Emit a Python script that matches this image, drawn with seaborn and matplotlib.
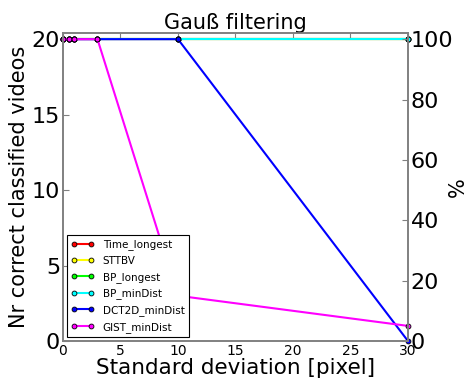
import matplotlib
matplotlib.use("Agg")
import matplotlib.pyplot as plt
import seaborn as sns
import pandas as pd

sigma = [0, 0.5, 1, 3, 10, 30]
time_longest = [20, 20, 20, 20, 20, 20]
sttbv = [20, 20, 20, 20, 20, 20]
bp_longest = [20, 20, 20, 20, 20, 20]
bp_mindist = [20, 20, 20, 20, 20, 20]
dct2d_mindist = [20, 20, 20, 20, 20, 0]
gist_mindist = [20, 20, 20, 20, 3, 1]

series = {
    "Time_longest": time_longest,
    "STTBV": sttbv,
    "BP_longest": bp_longest,
    "BP_minDist": bp_mindist,
    "DCT2D_minDist": dct2d_mindist,
    "GIST_minDist": gist_mindist,
}
colors = ["#ff0000", "#ffff00", "#00ff00", "#00ffff", "#0000ff", "#ff00ff"]

sns.set_style("white")
plt.rcParams["font.family"] = ["DejaVu Sans"]
plt.rcParams["text.color"] = "black"
plt.rcParams["axes.labelcolor"] = "black"
plt.rcParams["xtick.labelcolor"] = "black"
plt.rcParams["ytick.labelcolor"] = "black"

fig = plt.figure(figsize=(4.7, 3.81), dpi=100)
ax = fig.add_axes([0.134, 0.105, 0.734, 0.808])

for (name, vals), col in zip(series.items(), colors):
    df = pd.DataFrame({"sigma": sigma, "n": vals})
    sns.lineplot(data=df, x="sigma", y="n", ax=ax, color=col, label=name,
                 marker="o", markersize=3.5, markeredgecolor="black",
                 markeredgewidth=0.6, linewidth=1.5, clip_on=False)

ax.set_xlim(0, 30)
ax.set_ylim(0, 20.4)
ax.set_xticks([0, 5, 10, 15, 20, 25, 30])
ax.set_yticks([0, 5, 10, 15, 20])
ax.tick_params(axis="x", labelsize=10, direction="in", top=True, length=4,
               color="#808080", pad=2)
ax.tick_params(axis="y", labelsize=16, direction="in", length=4,
               color="#808080", pad=2)
ax.set_xlabel("Standard deviation [pixel]", fontsize=15.5, labelpad=0)
ax.set_ylabel("Nr correct classified videos", fontsize=15, labelpad=2)
ax.set_title("Gauß filtering", fontsize=15, pad=2)
for s in ax.spines.values():
    s.set_color("#808080")
    s.set_linewidth(1.2)

leg = ax.legend(loc="lower left", fontsize=7.5, numpoints=2, fancybox=False,
                framealpha=1, edgecolor="black", borderaxespad=0.4,
                handlelength=2.2, labelspacing=0.55)
leg.get_frame().set_linewidth(0.8)

ax2 = ax.twinx()
ax2.set_ylim(0, 102)
ax2.set_yticks([0, 20, 40, 60, 80, 100])
ax2.tick_params(axis="y", labelsize=16, direction="in", length=4,
                color="#808080", pad=2)
ax2.set_ylabel("%", fontsize=15, labelpad=-4)
for s in ax2.spines.values():
    s.set_color("#808080")
    s.set_linewidth(1.2)

fig.savefig("out.png", dpi=100)
